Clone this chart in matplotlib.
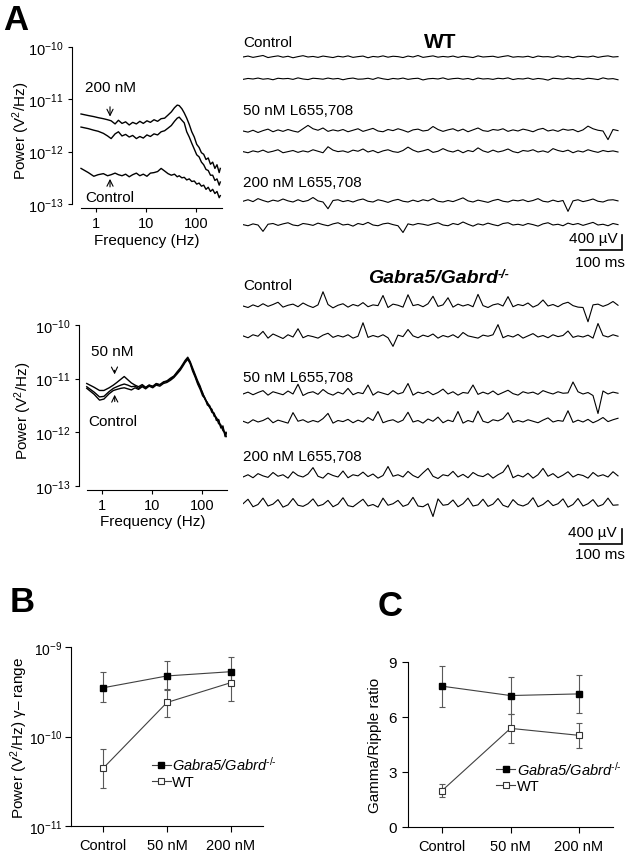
import numpy as np
import matplotlib
matplotlib.use('Agg')
import matplotlib.pyplot as plt
from matplotlib.lines import Line2D

plt.rcParams['font.family'] = ['Liberation Sans', 'DejaVu Sans']
plt.rcParams['mathtext.fontset'] = 'custom'
plt.rcParams['mathtext.rm'] = 'Liberation Sans'
plt.rcParams['mathtext.it'] = 'Liberation Sans:italic'
plt.rcParams['mathtext.bf'] = 'Liberation Sans:bold'
plt.rcParams['axes.linewidth'] = 0.8

# ---- power spectra (log10 power, V^2/Hz) ----
freq_hz = [0.5, 0.7, 0.9, 1.1, 1.4, 1.7, 2.0, 2.4, 2.8, 3.3,
           3.9, 4.6, 5.4, 6.4, 7.5, 8.8, 10.4, 12.2, 14.4, 17,
           20, 23.5, 27.5, 32, 37, 42, 46, 52, 58, 65,
           73, 82, 92, 103, 115, 128, 142, 158, 175, 194,
           215, 238, 262, 290, 305]

wt_spec_200 = [-11.28, -11.31, -11.33, -11.35, -11.37, -11.39, -11.41, -11.47, -11.40, -11.46,
               -11.43, -11.49, -11.44, -11.47, -11.42, -11.46, -11.41, -11.44, -11.39, -11.42,
               -11.37, -11.36, -11.30, -11.24, -11.16, -11.11, -11.12, -11.18, -11.26, -11.36,
               -11.48, -11.62, -11.72, -11.86, -11.92, -12.02, -12.05, -12.15, -12.12, -12.24,
               -12.20, -12.32, -12.25, -12.40, -12.32]
wt_spec_50 = [-11.53, -11.56, -11.59, -11.61, -11.65, -11.70, -11.75, -11.66, -11.62, -11.70,
              -11.67, -11.72, -11.69, -11.75, -11.71, -11.74, -11.68, -11.71, -11.66, -11.68,
              -11.62, -11.60, -11.55, -11.50, -11.42, -11.36, -11.34, -11.40, -11.45, -11.62,
              -11.72, -11.84, -11.95, -12.06, -12.10, -12.20, -12.25, -12.34, -12.36, -12.45,
              -12.45, -12.55, -12.52, -12.64, -12.58]
wt_spec_ctrl = [-12.32, -12.40, -12.47, -12.44, -12.42, -12.46, -12.44, -12.41, -12.44, -12.46,
                -12.43, -12.48, -12.44, -12.41, -12.46, -12.43, -12.47, -12.41, -12.40, -12.38,
                -12.32, -12.37, -12.42, -12.45, -12.43, -12.48, -12.46, -12.50, -12.49, -12.54,
                -12.52, -12.57, -12.56, -12.62, -12.60, -12.66, -12.64, -12.72, -12.68, -12.76,
                -12.72, -12.80, -12.76, -12.88, -12.84]

gab_spec_50 = [-11.09, -11.16, -11.22, -11.22, -11.17, -11.12, -11.07, -11.01, -10.96, -11.02,
               -11.08, -11.12, -11.15, -11.11, -11.16, -11.12, -11.14, -11.09, -11.11, -11.06,
               -11.04, -10.99, -10.95, -10.87, -10.80, -10.72, -10.66, -10.60, -10.68, -10.80,
               -10.92, -11.04, -11.14, -11.28, -11.36, -11.46, -11.50, -11.60, -11.66, -11.74,
               -11.78, -11.90, -11.92, -12.05, -12.00]
gab_spec_200 = [-11.15, -11.25, -11.34, -11.33, -11.24, -11.18, -11.15, -11.12, -11.10, -11.12,
                -11.15, -11.14, -11.18, -11.13, -11.17, -11.12, -11.15, -11.10, -11.12, -11.07,
                -11.05, -11.01, -10.96, -10.89, -10.82, -10.74, -10.68, -10.62, -10.70, -10.83,
                -10.95, -11.07, -11.17, -11.26, -11.39, -11.44, -11.54, -11.57, -11.70, -11.72,
                -11.84, -11.86, -11.97, -12.00, -12.08]
gab_spec_ctrl = [-11.18, -11.29, -11.40, -11.38, -11.28, -11.22, -11.20, -11.18, -11.17, -11.19,
                 -11.21, -11.17, -11.20, -11.15, -11.19, -11.14, -11.17, -11.12, -11.14, -11.09,
                 -11.07, -11.03, -10.98, -10.91, -10.84, -10.76, -10.70, -10.64, -10.72, -10.86,
                 -10.97, -11.10, -11.20, -11.32, -11.37, -11.49, -11.52, -11.63, -11.64, -11.78,
                 -11.76, -11.92, -11.88, -12.08, -12.02]

# ---- field potential traces (uV, one value every 12 ms over 900 ms) ----
trace_step_ms = 12
wt_ctrl_1 = [0, 25, -10, 15, 40, -15, 10, 30, -5, 20, -20, 10, 35, 0, 15, -10, 25, 5, -15,
             20, 0, 30, -10, 10, 25, -20, 15, 0, 30, -5, 20, 10, -15, 25, 0, 40, -10, 10,
             30, -5, 15, 0, 25, -10, 20, 5, -15, 30, 0, 10, 20, -10, 15, 35, -5, 10, 0,
             20, -15, 25, 5, 10, -10, 30, 0, 15, -20, 20, 10, 0, 25, -10, 15, 30, 0, 10]
wt_ctrl_2 = [-10, 15, 0, 25, -5, 10, -20, 20, 5, 15, -10, 30, 0, -15, 20, 10, -5, 25, 0,
             15, -20, 10, 25, -5, 0, 20, -10, 35, 5, -15, 15, 0, 25, -10, 10, 20, -25, 5,
             15, 0, 30, -10, 10, 20, -5, 15, -20, 25, 0, 10, -10, 20, 5, 30, -15, 10, 0,
             25, -10, 15, 0, -30, 20, 10, -5, 25, 0, 15, -10, 20, 5, -15, 30, 0, 10, -20]
wt_50nm_1 = [0, -30, 20, -40, 10, 50, -20, 30, -10, 40, 0, -30, 60, 150, 60, 20, 80, -10, 30,
             0, 40, -20, 20, 60, -10, 30, 70, 0, -20, 40, 10, 60, 20, -30, 30, 50, 0, 20,
             120, 40, -10, 30, 60, 0, 50, -20, 30, 80, 10, -10, 40, 20, 60, -10, 30, 0, 50,
             20, -20, 40, 70, 0, 30, -10, 50, 20, 40, -20, 30, 130, 60, 20, 0, -230, 40, 10]
wt_50nm_2 = [10, -20, 30, 0, 50, -10, 20, 60, -20, 10, 40, -10, 30, 0, 60, 20, -20, 140, 50,
             10, 30, -10, 50, 20, 80, 0, 40, -20, 30, 60, 10, -10, 40, 130, 50, 0, 30, 70,
             -10, 20, 90, 30, 0, 50, -20, 40, 10, 110, 30, -10, 50, 0, 30, 80, 10, -20, 40,
             20, 60, 0, 30, -10, 90, 40, 10, 50, -20, 30, 0, 60, 20, -10, 40, 10, 30, 0]
wt_200nm_1 = [20, 60, 10, 90, 40, 0, 50, 20, 80, 30, 0, 60, 10, 40, 120, 30, 0, -180, 40,
              60, 10, 40, 0, 50, 80, 20, 0, 60, 30, -10, 40, 70, 20, 0, 50, 10, 60, 30,
              90, 20, 0, 40, 10, 60, 110, 30, 0, 50, 20, -10, 40, 70, 20, 0, 50, 30, 60,
              10, 40, 90, 20, 0, 50, 10, 40, -250, 30, 60, 10, 40, 80, 20, 0, 50, 60, 30]
wt_200nm_2 = [10, -20, 30, 0, -170, 20, 40, -10, 30, 60, 0, -20, 40, 20, -10, 50, 10, -20, 30,
              60, 0, 20, -30, 40, 10, 70, 0, -20, 30, 50, 10, -20, -200, 30, 0, 40, 20, -10,
              30, 60, 0, -20, 40, 10, 80, 20, -30, 30, 0, 50, 10, -20, 40, 60, 0, 20, -10,
              40, 10, -30, 30, 60, 0, 20, -20, 50, 10, 40, -10, 30, 70, 0, 20, -20, 40, 10]

gab_ctrl_1 = [0, -40, 30, -20, 60, -10, 40, 100, -30, 20, 50, -20, 80, 10, -40, 30, 380, 40, -50,
              20, 60, -30, 40, 0, 90, -20, 30, 10, 280, -40, 50, 20, -30, 300, 10, 40, -20, 60,
              260, -10, 30, 220, -30, 50, 0, 40, -20, 310, 10, -40, 30, 60, 0, 250, -20, 40, 10,
              80, -30, 30, 160, 0, 40, -20, 60, 100, 10, -30, -40, -420, 30, 50, -10, 40, 120, 20]
gab_ctrl_2 = [30, -20, 60, 20, 150, -30, 80, 20, -40, 60, 0, 220, -20, 40, 10, -30, 50, 100, -10,
              40, 0, 60, -30, 20, 380, -10, 40, 0, 60, -20, -250, 50, 10, 200, 30, -20, 50, 10,
              80, -30, 40, 0, 60, -20, 120, 30, 0, -30, 50, 20, 60, 330, -20, 40, 0, 70, -30,
              30, 90, 0, 40, -20, 60, 10, 40, 160, -10, 30, 0, 50, -30, 360, 40, 0, 60, 20]
gab_50nm_1 = [0, 50, -20, 40, 90, -30, 60, 20, -20, 80, 0, 260, -40, 30, 60, -10, 120, 20, -30,
              50, 0, 150, -20, 40, 10, 240, -30, 60, 20, -20, 90, 0, 40, 280, -30, 50, 10, 70,
              -20, 40, 130, 0, 60, -30, 40, 20, 240, -10, 50, 0, 80, -20, 40, 100, 10, -30, 60,
              20, 50, -10, 90, 40, 0, 60, 20, 30, 320, 60, 0, 40, -40, -520, 80, 0, 50, 20]
gab_50nm_2 = [20, -30, 60, 0, 40, 110, -20, 50, 10, -30, 250, 20, 60, -10, 40, 0, 90, 230, -30,
              40, 10, 70, -20, 50, 0, 120, 40, 280, -20, 30, 60, -10, 50, 260, 0, 40, -30, 80,
              20, 130, -20, 50, 10, 280, -30, 40, 0, 290, 20, -20, 60, 30, 90, 250, -10, 40, 0,
              60, 20, -20, 50, 110, 0, 40, 20, 300, -10, 50, 0, 70, -20, 40, 120, 10, 60, 100]
gab_200nm_1 = [0, 60, -20, 90, 30, -10, 120, 20, 60, -30, 140, 40, 0, 80, 250, 20, -30, 100, 40,
               0, 160, -20, 60, 30, 130, 10, 80, -30, 40, 280, 20, 60, 0, 150, 40, -20, 110, 230,
               20, -40, 60, 30, 150, 0, 70, -20, 120, 40, 10, 90, -30, 60, 130, 320, -20, 50, 0,
               100, -30, 60, 230, 20, 90, -20, 50, 140, 0, 70, 40, -30, 120, 20, 60, 0, 140, 30]
gab_200nm_2 = [60, 180, -20, 40, 210, 0, 50, 170, -30, 30, 200, 20, -10, 60, 190, 0, 40, 150, -20,
               50, 220, 10, -20, 80, 180, 0, 40, -30, 210, 20, 60, 150, -10, 40, 230, 0, -20, 60,
               -280, 190, 20, 40, 160, -20, 60, 210, 0, 30, 180, -10, 50, 200, 20, -30, 170, 40, 0,
               60, 220, -20, 40, 150, 10, 60, 190, -30, 40, 200, 0, 60, 170, -10, 40, 210, 20, 30]

# ---- panel B / C summary data ----
conditions = ['Control', '50 nM', '200 nM']
gab_gamma = [3.5e-10, 4.75e-10, 5.3e-10]
gab_gamma_hi = [5.2e-10, 7.0e-10, 7.8e-10]
gab_gamma_lo = [2.4e-10, 3.3e-10, 3.8e-10]
wt_gamma = [4.4e-11, 2.4e-10, 4.0e-10]
wt_gamma_hi = [7.3e-11, 3.4e-10, 5.4e-10]
wt_gamma_lo = [2.65e-11, 1.67e-10, 2.5e-10]

gab_ratio = [7.68, 7.17, 7.26]
gab_ratio_hi = [8.79, 8.17, 8.30]
gab_ratio_lo = [6.56, 6.16, 6.21]
wt_ratio = [1.99, 5.38, 5.0]
wt_ratio_hi = [2.36, 6.16, 5.69]
wt_ratio_lo = [1.63, 4.57, 4.33]

W, H = 627, 853
FS = 11
fig = plt.figure(figsize=(W / 100, H / 100), dpi=100)


def add_ax(x0, y0, x1, y1):
    return fig.add_axes([x0 / W, 1 - y1 / H, (x1 - x0) / W, (y1 - y0) / H])


def ftext(x, y, s, **kw):
    return fig.text(x / W, 1 - y / H, s, **kw)


def style_spectrum(ax, xlo, xhi):
    ax.set_xscale('log')
    ax.set_yscale('log')
    ax.set_xlim(xlo, xhi)
    ax.set_ylim(1e-13, 1e-10)
    ax.spines['top'].set_visible(False)
    ax.spines['right'].set_visible(False)
    ax.spines['bottom'].set_bounds(0.5, xhi)
    ax.spines['bottom'].set_position(('outward', 3))
    ax.set_xticks([1, 10, 100])
    ax.set_xticklabels(['1', '10', '100'])
    ax.set_yticks([1e-13, 1e-12, 1e-11, 1e-10])
    ax.minorticks_off()
    ax.tick_params(direction='out', length=3, width=0.8, labelsize=10.5, pad=3)
    ax.set_xlabel('Frequency (Hz)', fontsize=FS)
    ax.set_ylabel('Power (V$^2$/Hz)', fontsize=FS)
    ax.xaxis.label.set_va('center')
    ax.yaxis.label.set_va('center')


arrow_kw = dict(arrowstyle='->', lw=0.8, color='black', shrinkA=7, shrinkB=0)

# ---- panel A spectra ----
ax1 = add_ax(72, 48, 222, 205)
for vals in [wt_spec_200, wt_spec_50, wt_spec_ctrl]:
    ax1.plot(freq_hz, 10 ** np.array(vals), color='black', lw=1.0)
style_spectrum(ax1, 0.33, 330)
ax1.xaxis.set_label_coords(0.5, -0.23)
ax1.yaxis.set_label_coords(-0.34, 0.47)
ax1.annotate('200 nM', xy=(1.9, 10 ** -11.33), xytext=(1.9, 10 ** -10.77),
             ha='center', va='center', fontsize=FS, arrowprops=arrow_kw)
ax1.annotate('Control', xy=(1.9, 10 ** -12.52), xytext=(1.9, 10 ** -12.86),
             ha='center', va='center', fontsize=FS, arrowprops=arrow_kw)

ax2 = add_ax(79, 326, 227, 487)
for vals in [gab_spec_50, gab_spec_200, gab_spec_ctrl]:
    ax2.plot(freq_hz, 10 ** np.array(vals), color='black', lw=1.0)
style_spectrum(ax2, 0.35, 316)
ax2.xaxis.set_label_coords(0.5, -0.22)
ax2.yaxis.set_label_coords(-0.38, 0.47)
ax2.annotate('50 nM', xy=(1.8, 10 ** -10.92), xytext=(1.6, 10 ** -10.48),
             ha='center', va='center', fontsize=FS,
             arrowprops=dict(arrow_kw, relpos=(0.55, 0.5)))
ax2.annotate('Control', xy=(1.8, 10 ** -11.30), xytext=(1.65, 10 ** -11.79),
             ha='center', va='center', fontsize=FS,
             arrowprops=dict(arrow_kw, relpos=(0.55, 0.5)))

# ---- panel A traces ----
uv_per_px = 400 / 15
ms_per_px = 2.4
axt = add_ax(243, 30, 627, 570)
axt.set_xlim(0, (627 - 243) * ms_per_px)
axt.set_ylim(0, 540 * uv_per_px)
axt.axis('off')


def row_base(py):
    return (570 - py) * uv_per_px


traces = [wt_ctrl_1, wt_ctrl_2, wt_50nm_1, wt_50nm_2, wt_200nm_1, wt_200nm_2,
          gab_ctrl_1, gab_ctrl_2, gab_50nm_1, gab_50nm_2, gab_200nm_1, gab_200nm_2]
rows_px = [58, 80, 132, 153, 203, 226, 307, 338, 395, 423, 478, 507]
for vals, py in zip(traces, rows_px):
    t = np.arange(len(vals)) * trace_step_ms
    axt.plot(t, np.array(vals) + row_base(py), color='black', lw=0.8)

# scale bars
for corner_x, corner_y in [(622, 251), (622, 545)]:
    cx = (corner_x - 243) * ms_per_px
    cy = row_base(corner_y)
    axt.plot([cx - 100, cx, cx], [cy, cy, cy + 400], color='black', lw=1.2,
             clip_on=False, solid_joinstyle='miter')

ftext(618, 239, '400 µV', ha='right', va='center', fontsize=FS)
ftext(600, 263, '100 ms', ha='center', va='center', fontsize=FS)
ftext(617, 533, '400 µV', ha='right', va='center', fontsize=FS)
ftext(600, 555, '100 ms', ha='center', va='center', fontsize=FS)

ftext(243, 43, 'Control', ha='left', va='center', fontsize=FS)
ftext(243, 111, '50 nM L655,708', ha='left', va='center', fontsize=FS)
ftext(243, 183, '200 nM L655,708', ha='left', va='center', fontsize=FS)
ftext(243, 286, 'Control', ha='left', va='center', fontsize=FS)
ftext(243, 378, '50 nM L655,708', ha='left', va='center', fontsize=FS)
ftext(243, 457, '200 nM L655,708', ha='left', va='center', fontsize=FS)

ftext(440, 42, 'WT', ha='center', va='center', fontsize=15, fontweight='bold')
gtitle = ftext(368, 279, 'Gabra5/Gabrd', ha='left', va='center', fontsize=14,
               fontweight='bold', fontstyle='italic')
axt.annotate('-/-', xy=(1, 1), xycoords=gtitle, xytext=(0, 1), textcoords='offset points',
             ha='left', va='top', fontsize=9, fontweight='bold', fontstyle='italic')

ftext(16, 20, 'A', ha='center', va='center', fontsize=25, fontweight='bold')
ftext(22, 603, 'B', ha='center', va='center', fontsize=25, fontweight='bold')
ftext(390, 606, 'C', ha='center', va='center', fontsize=25, fontweight='bold')

x = np.arange(len(conditions))
gab_label = r'Gabra5/Gabrd$^{\text{-/-}}$'
legend_handles = [
    Line2D([], [], color='0.25', lw=0.8, marker='s', ms=4, mfc='black', mec='black'),
    Line2D([], [], color='0.25', lw=0.8, marker='s', ms=4, mfc='white', mec='0.2', mew=0.8),
]


def draw_summary(ax, gab, gab_lo, gab_hi, wt, wt_lo, wt_hi):
    gab = np.array(gab)
    wt = np.array(wt)
    ax.errorbar(x, gab, yerr=[gab - np.array(gab_lo), np.array(gab_hi) - gab],
                fmt='s-', color='0.25', ecolor='0.35', mfc='black', mec='black',
                ms=4.5, lw=0.8, elinewidth=0.8, capsize=2, capthick=0.8)
    ax.errorbar(x, wt, yerr=[wt - np.array(wt_lo), np.array(wt_hi) - wt],
                fmt='s-', color='0.25', ecolor='0.35', mfc='white', mec='0.2',
                ms=4.5, lw=0.8, mew=0.8, elinewidth=0.8, capsize=2, capthick=0.8)
    ax.set_xlim(-0.5, 2.5)
    ax.set_xticks(x)
    ax.set_xticklabels(conditions, fontsize=FS)
    ax.spines['top'].set_visible(False)
    ax.spines['right'].set_visible(False)
    ax.tick_params(direction='out', length=4, width=0.8, labelsize=10.5, pad=4)
    ax.tick_params(axis='x', pad=5)


def add_legend(ax, anchor):
    leg = ax.legend(legend_handles, [gab_label, 'WT'], loc='upper left',
                    bbox_to_anchor=anchor, frameon=False, fontsize=10.5,
                    handlelength=1.3, handletextpad=0.1, labelspacing=0.15,
                    borderpad=0, borderaxespad=0)
    leg.get_texts()[0].set_fontstyle('italic')


# ---- panel B ----
axb = add_ax(71, 648, 263, 827)
axb.set_yscale('log')
draw_summary(axb, gab_gamma, gab_gamma_lo, gab_gamma_hi, wt_gamma, wt_gamma_lo, wt_gamma_hi)
axb.set_ylim(1e-11, 1e-9)
axb.set_yticks([1e-11, 1e-10, 1e-9])
axb.minorticks_off()
axb.tick_params(axis='y', labelsize=10, pad=2)
axb.set_ylabel('Power (V$^2$/Hz) γ– range', fontsize=FS)
axb.yaxis.label.set_va('center')
axb.yaxis.set_label_coords(-0.27, 0.5)
add_legend(axb, (0.42, 0.395))

# ---- panel C ----
axc = add_ax(408, 663, 613, 828)
draw_summary(axc, gab_ratio, gab_ratio_lo, gab_ratio_hi, wt_ratio, wt_ratio_lo, wt_ratio_hi)
axc.set_ylim(0, 9)
axc.set_yticks([0, 3, 6, 9])
axc.tick_params(axis='y', labelsize=FS)
axc.set_ylabel('Gamma/Ripple ratio', fontsize=FS)
axc.yaxis.label.set_va('center')
axc.yaxis.set_label_coords(-0.16, 0.5)
add_legend(axc, (0.43, 0.41))

fig.savefig('out.png', dpi=100)
